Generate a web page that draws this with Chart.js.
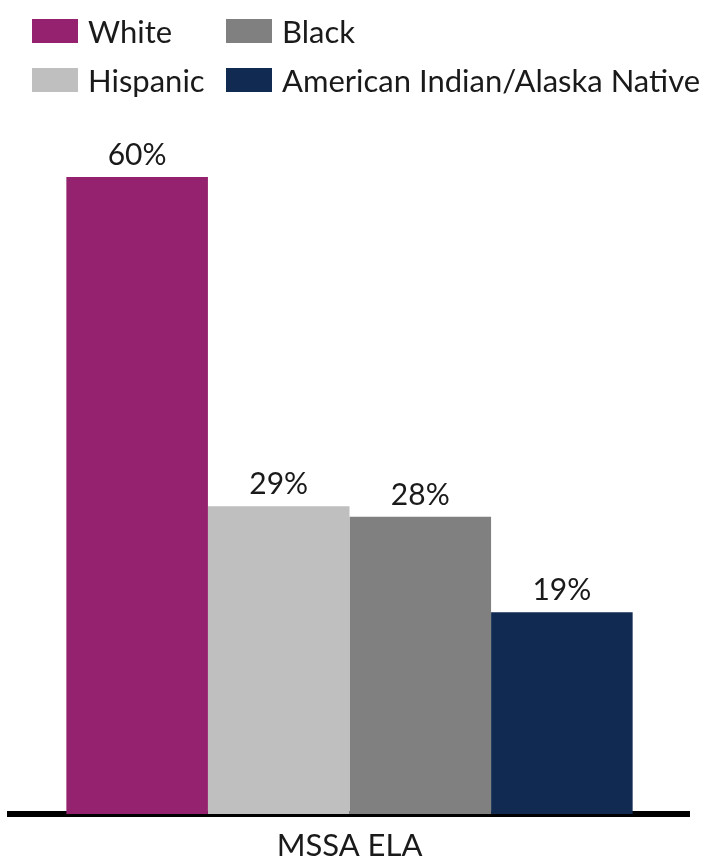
<!DOCTYPE html>
<html>
<head>
<meta charset="utf-8">
<script src="https://cdn.jsdelivr.net/npm/chart.js@4/dist/chart.umd.min.js"></script>
<style>
  html, body { margin: 0; padding: 0; background: #fff; }
  body { width: 707px; height: 861px; position: relative; overflow: hidden; font-family: Lato, sans-serif; }
  #legend {
    position: absolute; left: 32px; top: 6px; z-index: 1;
    display: grid; grid-template-rows: 49px 49px; grid-template-columns: 194px auto;
    grid-auto-flow: column; color: #1a1a1a; font-size: 31px;
  }
  #legend .item { display: flex; align-items: center; white-space: nowrap; }
  #legend .swatch { width: 46px; height: 24px; margin-right: 10px; flex: none; }
  #wrap { position: absolute; left: 0; top: 0; width: 707px; height: 861px; }
</style>
</head>
<body>
<div id="legend"></div>
<div id="wrap"><canvas id="chart"></canvas></div>
<script>
  // MSSA ELA proficiency by student group
  const categories = ["MSSA ELA"];
  const groups = ["White", "Hispanic", "Black", "American Indian/Alaska Native"];
  const values = [60, 29, 28, 19];
  const groupColors = ["#95226e", "#bfbfbf", "#808080", "#112a52"];

  // legend: two rows, filled column by column
  const legendEl = document.getElementById("legend");
  groups.forEach((name, i) => {
    const item = document.createElement("div");
    item.className = "item";
    item.innerHTML = `<span class="swatch" style="background:${groupColors[i]}"></span><span>${name}</span>`;
    legendEl.appendChild(item);
  });

  const valueLabels = {
    id: "valueLabels",
    afterDatasetsDraw(chart) {
      const { ctx } = chart;
      ctx.save();
      ctx.font = "30px Lato";
      ctx.fillStyle = "#1a1a1a";
      ctx.textAlign = "center";
      ctx.textBaseline = "alphabetic";
      chart.data.datasets.forEach((ds, i) => {
        chart.getDatasetMeta(i).data.forEach((bar, j) => {
          ctx.fillText(ds.data[j] + "%", bar.x, bar.y - 12);
        });
      });
      ctx.restore();
    },
  };

  new Chart(document.getElementById("chart"), {
    type: "bar",
    data: {
      labels: categories,
      datasets: groups.map((name, i) => ({
        label: name,
        data: [values[i]],
        backgroundColor: groupColors[i],
        borderWidth: 0,
      })),
    },
    options: {
      responsive: true,
      maintainAspectRatio: false,
      animation: false,
      categoryPercentage: 0.834,
      barPercentage: 1,
      // the axis reserves 2x tick padding; let the label sit at the very bottom edge
      layout: { padding: { top: 124, left: 10, right: 18, bottom: -16 } },
      plugins: { legend: { display: false }, tooltip: { enabled: false } },
      scales: {
        x: {
          grid: { display: false, drawTicks: false },
          border: { display: true, color: "#000", width: 6 },
          ticks: { color: "#1a1a1a", font: { family: "Lato", size: 31, lineHeight: 1 }, padding: 16 },
        },
        y: { display: false, min: 0, max: 65 },
      },
    },
    plugins: [valueLabels],
  });
</script>
</body>
</html>
